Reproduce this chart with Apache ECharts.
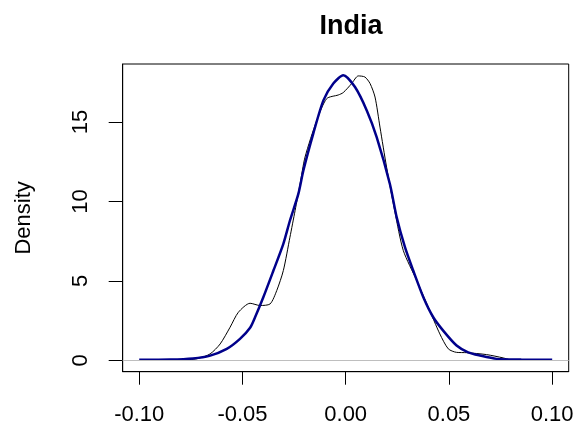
<!DOCTYPE html>
<html>
<head>
<meta charset="utf-8">
<script src="https://cdn.jsdelivr.net/npm/echarts@6/dist/echarts.min.js"></script>
<style>
  html, body { margin: 0; padding: 0; background: #fff; }
  #chart { width: 583px; height: 435px; }
</style>
</head>
<body>
<div id="chart"></div>
<script>
// tick labels
const xTicks = [-0.10, -0.05, 0.00, 0.05, 0.10];
const yTicks = [0, 5, 10, 15];

// black curve: empirical kernel density of the returns
const empiricalDensity = [
  [-0.078, 0.03], [-0.072, 0.10], [-0.0657, 0.40], [-0.0608, 1.03], [-0.056, 2.08],
  [-0.052, 3.02], [-0.0463, 3.59], [-0.0415, 3.45], [-0.0366, 3.55], [-0.0334, 4.39],
  [-0.0302, 5.65], [-0.027, 7.75], [-0.0245, 9.43], [-0.0221, 11.10], [-0.0197, 12.79],
  [-0.014, 15.10], [-0.0092, 16.47], [-0.0036, 16.70], [-0.0012, 16.85], [0.0029, 17.42],
  [0.0061, 17.90], [0.0093, 17.83], [0.0118, 17.42], [0.0142, 16.57], [0.0166, 14.68],
  [0.0198, 12.16], [0.0239, 9.30], [0.0279, 6.91], [0.0344, 5.02], [0.040, 3.34],
  [0.0456, 1.66], [0.0497, 0.72], [0.0537, 0.50], [0.0586, 0.48], [0.0682, 0.36],
  [0.0763, 0.15], [0.079, 0.05]
];

// blue curve: fitted density
const fittedDensity = [
  [-0.100, 0.03], [-0.085, 0.05], [-0.074, 0.12], [-0.066, 0.28], [-0.0576, 0.72],
  [-0.0512, 1.35], [-0.0463, 2.05], [-0.0439, 2.71], [-0.0399, 3.97], [-0.035, 5.65],
  [-0.0302, 7.33], [-0.027, 8.80], [-0.0229, 10.49], [-0.0205, 11.95], [-0.0157, 14.27],
  [-0.0108, 16.36], [-0.006, 17.42], [-0.0012, 17.94], [0.0045, 17.20], [0.0102, 15.73],
  [0.015, 14.05], [0.0214, 11.10], [0.0247, 9.00], [0.0287, 7.12], [0.0327, 5.65],
  [0.0376, 3.97], [0.0424, 2.71], [0.0472, 1.87], [0.0537, 0.93], [0.0593, 0.50],
  [0.065, 0.30], [0.0731, 0.09], [0.085, 0.05], [0.100, 0.03]
];

const chart = echarts.init(document.getElementById('chart'));
const font = 'Liberation Sans, Arial, sans-serif';

const option = {
  backgroundColor: '#ffffff',
  animation: false,
  title: {
    text: 'India',
    left: 346,
    top: 8,
    textAlign: 'center',
    textStyle: { fontFamily: font, fontSize: 27, fontWeight: 'bold', color: '#000' }
  },
  grid: {
    left: 122.7,
    right: 14.3,
    top: 64,
    bottom: 63.3,
    outerBoundsMode: 'none',
    show: true,
    borderColor: '#000',
    borderWidth: 1,
    backgroundColor: 'transparent'
  },
  xAxis: {
    type: 'value',
    min: -0.108,
    max: 0.108,
    axisLine: { show: true, onZero: false, lineStyle: { color: '#000', width: 1 } },
    axisTick: { show: true, length: 13, customValues: xTicks, lineStyle: { color: '#000' } },
    axisLabel: {
      customValues: xTicks,
      margin: 32,
      color: '#000',
      fontFamily: font,
      fontSize: 22,
      formatter: v => v.toFixed(2)
    },
    splitLine: { show: false }
  },
  yAxis: {
    type: 'value',
    min: -0.717,
    max: 18.65,
    name: 'Density',
    nameLocation: 'middle',
    nameRotate: 90,
    nameGap: 88,
    nameTextStyle: { fontFamily: font, fontSize: 22, color: '#000' },
    axisLine: { show: true, onZero: false, lineStyle: { color: '#000', width: 1 } },
    axisTick: { show: true, length: 14, customValues: yTicks, lineStyle: { color: '#000' } },
    axisLabel: {
      customValues: yTicks,
      rotate: 90,
      margin: 31,
      color: '#000',
      fontFamily: font,
      fontSize: 22
    },
    splitLine: { show: false }
  },
  series: [
    {
      name: 'empirical',
      type: 'line',
      data: empiricalDensity,
      showSymbol: false,
      smooth: 0.25,
      lineStyle: { color: '#000', width: 1 },
      z: 3,
      markLine: {
        silent: true,
        symbol: ['none', 'none'],
        label: { show: false },
        lineStyle: { color: '#bebebe', type: 'solid', width: 1 },
        data: [{ yAxis: 0 }]
      }
    },
    {
      name: 'fitted',
      type: 'line',
      data: fittedDensity,
      showSymbol: false,
      smooth: 0.25,
      lineStyle: { color: '#00008b', width: 2.5 },
      z: 4
    }
  ]
};

chart.setOption(option);
</script>
</body>
</html>
